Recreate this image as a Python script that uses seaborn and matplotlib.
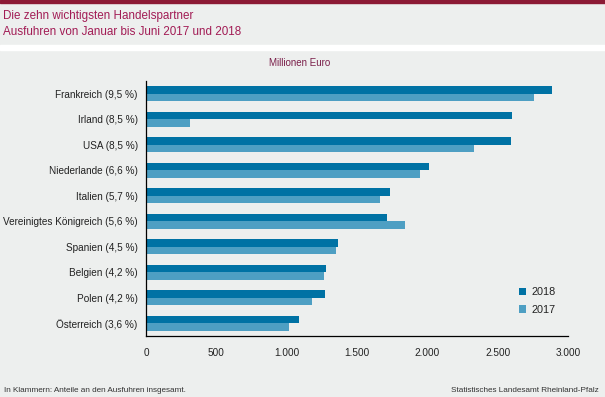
import pandas as pd
import matplotlib.pyplot as plt
import seaborn as sns
from matplotlib.patches import Rectangle

countries = [
    "Frankreich (9,5 %)",
    "Irland (8,5 %)",
    "USA (8,5 %)",
    "Niederlande (6,6 %)",
    "Italien (5,7 %)",
    "Vereinigtes Königreich (5,6 %)",
    "Spanien (4,5 %)",
    "Belgien (4,2 %)",
    "Polen (4,2 %)",
    "Österreich (3,6 %)",
]
exports_2018 = [2886, 2601, 2594, 2010, 1732, 1711, 1368, 1283, 1276, 1090]
exports_2017 = [2758, 314, 2331, 1946, 1661, 1839, 1354, 1268, 1183, 1019]
years = ["2018", "2017"]

df = pd.DataFrame({
    "land": countries * 2,
    "wert": exports_2018 + exports_2017,
    "jahr": [years[0]] * len(countries) + [years[1]] * len(countries),
})

bg = "#EDEFEE"
sns.set_style("white")
plt.rcParams["font.family"] = ["Liberation Sans", "DejaVu Sans"]

fig = plt.figure(figsize=(6.05, 3.97), dpi=100, facecolor=bg)
ax = fig.add_axes([146 / 605, 1 - 336 / 397, 422 / 605, 255 / 397])
ax.set_facecolor(bg)

sns.barplot(data=df, y="land", x="wert", hue="jahr", hue_order=years,
            palette=["#0072A4", "#4E9FC3"], orient="h", width=0.6,
            saturation=1, linewidth=0, ax=ax)

ax.set_xlim(0, 3000)
ax.set_ylim(9.5, -0.5)
ax.set_xticks(range(0, 3001, 500))
ax.set_xticklabels(["0", "500", "1.000", "1.500", "2.000", "2.500", "3.000"])
ax.set_yticks(range(len(countries)))
ax.set_yticks([i - 0.5 for i in range(len(countries) + 1)], minor=True)
ax.tick_params(axis="y", which="major", length=0, pad=6, labelsize=7.2, labelcolor="#222222")
ax.tick_params(axis="y", which="minor", length=4, width=0.8, direction="out", color="black")
ax.tick_params(axis="x", length=4, width=0.8, labelsize=7.2, labelcolor="#222222", pad=5)
ax.set_xlabel("")
ax.set_ylabel("")
for side in ["top", "right"]:
    ax.spines[side].set_visible(False)
for side in ["left", "bottom"]:
    ax.spines[side].set_color("black")
    ax.spines[side].set_linewidth(0.9)

leg = ax.legend(loc="lower right", bbox_to_anchor=(0.995, 0.045), frameon=False,
                fontsize=7.8, handlelength=0.7, handleheight=0.7, handletextpad=0.5,
                labelspacing=0.7)
for t in leg.get_texts():
    t.set_color("#222222")

# header band
fig.patches.append(Rectangle((0, 1 - 3 / 397), 1, 3 / 397, transform=fig.transFigure,
                             color="#8C1A35", zorder=0))
fig.patches.append(Rectangle((0, 1 - 50 / 397), 1, 5 / 397, transform=fig.transFigure,
                             color="white", zorder=0))

fig.text(3 / 605, 1 - 16 / 397, "Die zehn wichtigsten Handelspartner", fontsize=8.4,
         color="#A21C55", va="center")
fig.text(3 / 605, 1 - 32 / 397, "Ausfuhren von Januar bis Juni 2017 und 2018", fontsize=8.4,
         color="#A21C55", va="center")
fig.text(300 / 605, 1 - 63 / 397, "Millionen Euro", fontsize=7, color="#7A1F4A",
         ha="center", va="center")
fig.text(4 / 605, 1 - 390 / 397, "In Klammern: Anteile an den Ausfuhren insgesamt.",
         fontsize=5.9, color="#333333", va="center")
fig.text(599 / 605, 1 - 390 / 397, "Statistisches Landesamt Rheinland-Pfalz",
         fontsize=5.9, color="#333333", va="center", ha="right")

fig.savefig("out.png", dpi=100, facecolor=bg)
